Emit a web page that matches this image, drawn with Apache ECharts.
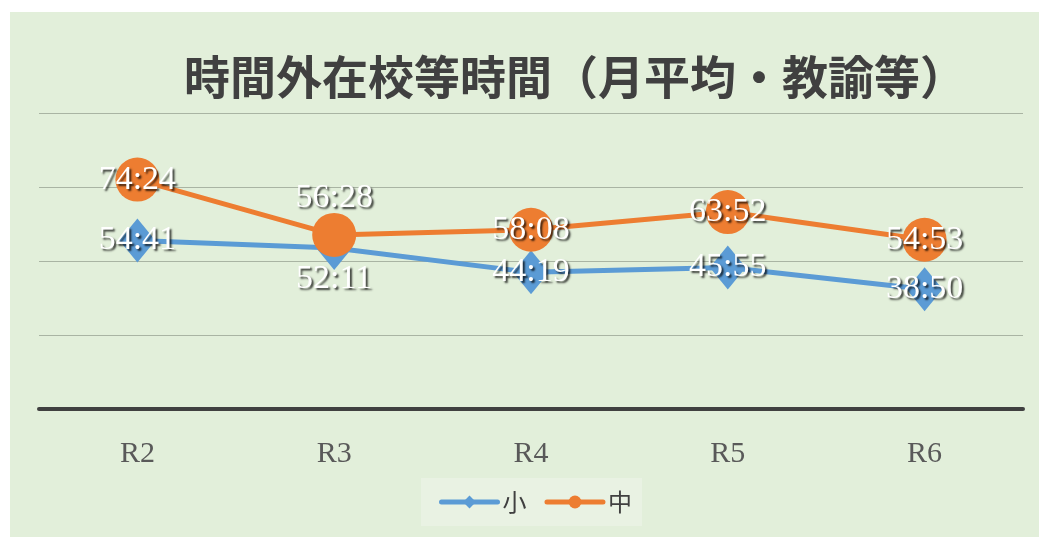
<!DOCTYPE html>
<html>
<head>
<meta charset="utf-8">
<script src="https://cdn.jsdelivr.net/npm/echarts@6/dist/echarts.min.js"></script>
<style>
  html, body { margin: 0; padding: 0; background: #ffffff; }
  #chart { position: absolute; left: 10px; top: 12px; width: 1029px; height: 525px; background: #E2EFDA; }
</style>
</head>
<body>
<div id="chart"></div>
<script>
var years = ['R2', 'R3', 'R4', 'R5', 'R6'];
// hh:mm per month
var elementary = ['54:41', '52:11', '44:19', '45:55', '38:50'];
var juniorHigh = ['74:24', '56:28', '58:08', '63:52', '54:53'];

// Excel style: value in days
function toDays(s) {
    var p = s.split(':');
    return (parseInt(p[0], 10) + parseInt(p[1], 10) / 60) / 24;
}

var labelStyle = {
    show: true,
    color: '#ffffff',
    fontFamily: 'Liberation Serif',
    fontSize: 34,
    textShadowColor: 'rgba(0,0,0,0.75)',
    textShadowOffsetX: 2,
    textShadowOffsetY: 2,
    textShadowBlur: 2
};

function buildData(list, labelFor) {
    return list.map(function (t, i) {
        return {
            value: toDays(t),
            text: t,
            label: labelFor(i)
        };
    });
}

var myChart = echarts.init(document.getElementById('chart'));

var option = {
    backgroundColor: '#E2EFDA',
    animation: false,
    title: {
        text: '時間外在校等時間（月平均・教諭等）',
        left: 560,
        top: 37,
        textAlign: 'center',
        textStyle: {
            fontFamily: 'Noto Sans CJK JP',
            fontSize: 46,
            fontWeight: 'bold',
            color: '#404040'
        }
    },
    legend: {
        left: 411,
        top: 466,
        backgroundColor: '#E9F2E3',
        padding: [12, 10, 12, 18],
        itemWidth: 56,
        itemHeight: 16,
        itemGap: 18,
        lineStyle: { width: 5, cap: 'round' },
        textStyle: {
            fontFamily: 'Noto Sans CJK JP',
            fontSize: 24,
            color: '#404040'
        },
        data: ['小', '中']
    },
    grid: {
        left: 29,
        right: 16,
        top: 101,
        bottom: 128
    },
    xAxis: {
        type: 'category',
        data: years,
        boundaryGap: true,
        axisTick: { show: false },
        axisLine: { lineStyle: { color: '#404040', width: 4 } },
        axisLabel: {
            margin: 30,
            fontFamily: 'Liberation Serif',
            fontSize: 30,
            color: '#595959'
        }
    },
    yAxis: {
        type: 'value',
        min: 0,
        max: 4,
        interval: 1,
        axisLabel: { show: false },
        axisLine: { show: false },
        axisTick: { show: false },
        splitLine: { lineStyle: { color: '#A9B4A3', width: 1 } }
    },
    series: [
        {
            name: '小',
            type: 'line',
            data: buildData(elementary, function (i) {
                return i === 1 ? { position: 'bottom', distance: -8 } : { position: 'inside' };
            }),
            symbol: 'diamond',
            symbolSize: [36, 44],
            lineStyle: { color: '#5B9BD5', width: 5 },
            itemStyle: { color: '#5B9BD5' },
            label: Object.assign({}, labelStyle, {
                formatter: function (p) { return p.data.text; }
            }),
            z: 2
        },
        {
            name: '中',
            type: 'line',
            data: buildData(juniorHigh, function (i) {
                return i === 1 ? { position: 'top', distance: -2 } : { position: 'inside' };
            }),
            symbol: 'circle',
            symbolSize: 44,
            lineStyle: { color: '#ED7D31', width: 5 },
            itemStyle: { color: '#ED7D31' },
            label: Object.assign({}, labelStyle, {
                formatter: function (p) { return p.data.text; }
            }),
            z: 3
        }
    ]
};

myChart.setOption(option);
</script>
</body>
</html>
